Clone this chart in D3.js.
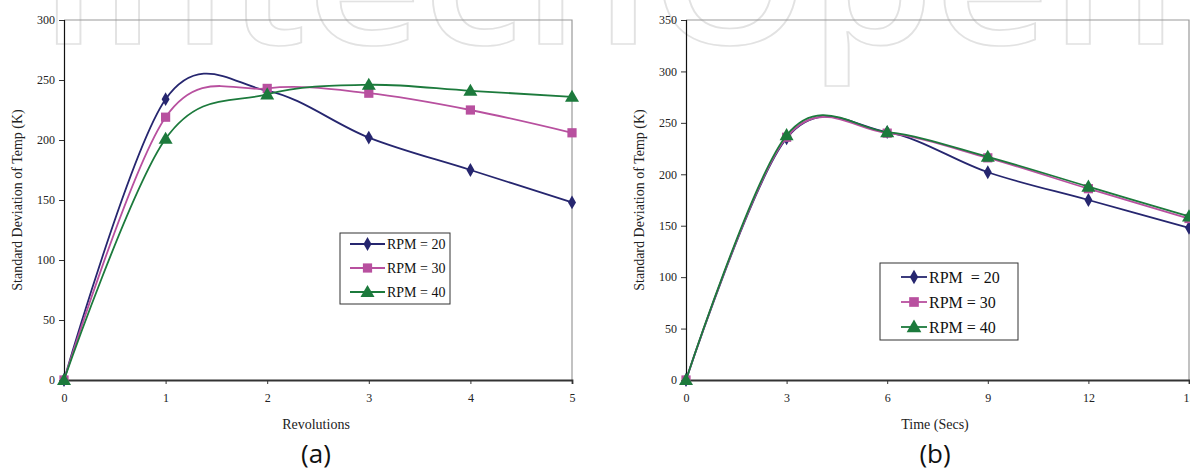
<!DOCTYPE html>
<html><head><meta charset="utf-8">
<script src="https://cdn.jsdelivr.net/npm/d3@7"></script>
<style>body{margin:0;background:#fff}svg{display:block}</style>
</head><body>
<svg id="c" width="1190" height="470"></svg>
<script>
// ---- data ----
const revolutions = [0, 1, 2, 3, 4, 5];
const revRpm20 = [0, 234, 241, 202, 175, 148];
const revRpm30 = [0, 219, 243, 239, 225, 206];
const revRpm40 = [0, 201, 238, 246, 241, 236];

const timeSecs = [0, 3, 6, 9, 12, 15];
const timeRpm20 = [0, 235, 241, 202, 175, 148];
const timeRpm30 = [0, 236, 240, 216, 186, 157];
const timeRpm40 = [0, 238, 241, 217, 188, 159];

const seriesNames = ["RPM = 20", "RPM = 30", "RPM = 40"];
const seriesNamesB = ["RPM  = 20", "RPM = 30", "RPM = 40"];
const yTicksA = [0, 50, 100, 150, 200, 250, 300];
const yTicksB = [0, 50, 100, 150, 200, 250, 300, 350];
const xTicksA = [0, 1, 2, 3, 4, 5];
const xTicksB = [0, 3, 6, 9, 12, 15];

const colors = ["#26266f", "#b8509f", "#1c7a3c"];
const markerTypes = [d3.symbolDiamond, d3.symbolSquare, d3.symbolTriangle];
const markerSizes = [55, 85, 85];

const svg = d3.select("#c");
const serif = "'Liberation Serif', 'DejaVu Serif', serif";

// watermark
svg.append("text")
  .attr("x", 38).attr("y", 44)
  .attr("textLength", 1140).attr("lengthAdjust", "spacingAndGlyphs")
  .style("font-family", "'Open Sans', sans-serif").style("font-weight", 600)
  .style("font-size", "175px")
  .attr("fill", "#fff").attr("stroke", "#e2e2e2").attr("stroke-width", 1.6)
  .text("IntechOpen");

function drawChart(cfg) {
  const x = d3.scaleLinear().domain(cfg.xDomain).range(cfg.xRange);
  const y = d3.scaleLinear().domain(cfg.yDomain).range([380, 20]);
  const g = svg.append("g");

  // plot border (top & right)
  g.append("path")
    .attr("d", `M${x.range()[0]},${y(cfg.yDomain[1])}H${x.range()[1]}V${y(0)}`)
    .attr("fill", "none").attr("stroke", "#9a9a9a").attr("stroke-width", 1.2);

  const yAxis = g.append("g").attr("transform", `translate(${x.range()[0]},0)`)
    .call(d3.axisLeft(y).tickValues(cfg.yTicks).tickSize(5).tickPadding(4).tickFormat(d3.format("d")));
  yAxis.select(".domain").attr("stroke", "#111").attr("stroke-width", 1.2);
  yAxis.selectAll(".tick line").attr("stroke", "#333");
  yAxis.selectAll("text").style("font-family", serif).style("font-size", "12px").attr("fill", "#222");

  const xAxis = g.append("g").attr("transform", `translate(0,${y(0)})`)
    .call(d3.axisBottom(x).tickValues(cfg.xTicks).tickSize(4).tickPadding(9).tickFormat(d3.format("d")));
  xAxis.select(".domain").attr("stroke", "#333").attr("stroke-width", 1.8);
  xAxis.selectAll(".tick line").attr("stroke", "#333");
  xAxis.selectAll("text").style("font-family", serif).style("font-size", "12px").attr("fill", "#222");

  // titles
  g.append("text").attr("transform", `translate(${cfg.yTitleX},200) rotate(-90)`)
    .attr("text-anchor", "middle").style("font-family", serif).style("font-size", "14px")
    .attr("fill", "#222").text("Standard Deviation of Temp (K)");
  const cx = cfg.titleX;
  g.append("text").attr("x", cx).attr("y", 429).attr("text-anchor", "middle")
    .style("font-family", serif).style("font-size", "14px").attr("fill", "#222").text(cfg.xTitle);
  g.append("text").attr("x", cx).attr("y", 463).attr("text-anchor", "middle")
    .style("font-family", "'Open Sans', sans-serif").style("font-size", "26px").attr("fill", "#111").text(cfg.label);

  const line = d3.line().x(d => x(d[0])).y(d => y(d[1])).curve(d3.curveCatmullRom.alpha(0));
  cfg.series.forEach((vals, i) => {
    const pts = cfg.xs.map((xv, j) => [xv, vals[j]]);
    g.append("path").attr("d", line(pts)).attr("fill", "none")
      .attr("stroke", colors[i]).attr("stroke-width", 1.8);
    g.selectAll(null).data(pts).enter().append("path")
      .attr("d", d3.symbol().type(markerTypes[i]).size(markerSizes[i]))
      .attr("transform", d => `translate(${x(d[0])},${y(d[1]) + (i === 2 ? 1 : 0)})`)
      .attr("fill", colors[i]);
  });

  // legend
  const L = cfg.legend;
  const lg = g.append("g").attr("transform", `translate(${L.x},${L.y})`);
  lg.append("rect").attr("width", L.w).attr("height", L.h).attr("fill", "#fff")
    .attr("stroke", "#333").attr("stroke-width", 1);
  cfg.names.forEach((name, i) => {
    const yy = L.y0 + i * L.dy;
    lg.append("line").attr("x1", L.lx1).attr("x2", L.lx2).attr("y1", yy).attr("y2", yy)
      .attr("stroke", colors[i]).attr("stroke-width", 1.8);
    lg.append("path").attr("d", d3.symbol().type(markerTypes[i]).size(markerSizes[i] * L.ms))
      .attr("transform", `translate(${(L.lx1 + L.lx2) / 2},${yy + (i === 2 ? 1 : 0)})`).attr("fill", colors[i]);
    lg.append("text").attr("x", L.lx2 + 2).attr("y", yy).attr("dy", "0.35em")
      .attr("xml:space", "preserve").style("white-space", "pre")
      .style("font-family", serif).style("font-size", L.fs).attr("fill", "#111").text(name);
  });
}

drawChart({
  xDomain: [0, 5], xRange: [64, 572], yDomain: [0, 300],
  xTicks: xTicksA, yTicks: yTicksA, xs: revolutions,
  series: [revRpm20, revRpm30, revRpm40], names: seriesNames,
  yTitleX: 22, titleX: 316, xTitle: "Revolutions", label: "(a)",
  legend: {x: 340, y: 233, w: 110, h: 71, y0: 11, dy: 24, lx1: 10, lx2: 45, fs: "14px", ms: 1}
});
drawChart({
  xDomain: [0, 15], xRange: [686, 1189], yDomain: [0, 350],
  xTicks: xTicksB, yTicks: yTicksB, xs: timeSecs,
  series: [timeRpm20, timeRpm30, timeRpm40], names: seriesNamesB,
  yTitleX: 644, titleX: 935, xTitle: "Time (Secs)", label: "(b)",
  legend: {x: 880, y: 263, w: 138, h: 77, y0: 14, dy: 25, lx1: 21, lx2: 47, fs: "16px", ms: 1.1}
});
</script>
</body></html>
